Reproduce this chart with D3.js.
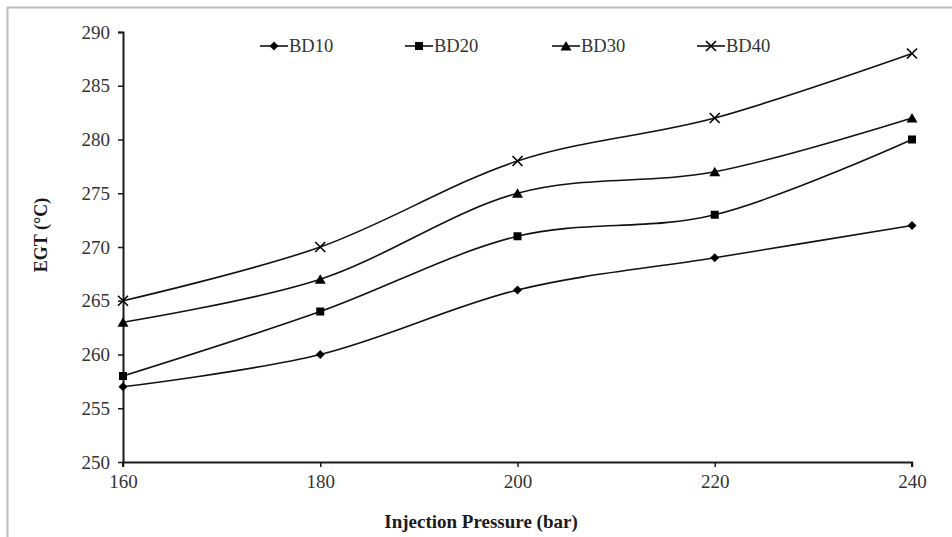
<!DOCTYPE html>
<html>
<head>
<meta charset="utf-8">
<script src="https://cdn.jsdelivr.net/npm/d3@7"></script>
<style>
  body { margin: 0; background: #fff; }
  svg text { font-family: "Liberation Serif", "Times New Roman", Times, "DejaVu Serif", serif !important; }
</style>
</head>
<body>
<div class="chart"></div>
<script>
// Chart data
var pressures = [160, 180, 200, 220, 240];
var seriesNames = ["BD10", "BD20", "BD30", "BD40"];
var bd10 = [257, 260, 266, 269, 272];
var bd20 = [258, 264, 271, 273, 280];
var bd30 = [263, 267, 275, 277, 282];
var bd40 = [265, 270, 278, 282, 288];
var xTicks = [160, 180, 200, 220, 240];
var yTicks = [250, 255, 260, 265, 270, 275, 280, 285, 290];

var svgWidth = 952;
var svgHeight = 537;

var margin = { top: 32, right: 40, bottom: 75, left: 123 };
var width = 912 - margin.left;
var height = 462 - margin.top;

var svg = d3.select(".chart")
  .append("svg")
  .attr("width", svgWidth)
  .attr("height", svgHeight);

// outer frame (only top and left edges show in the crop)
svg.append("path")
  .attr("d", "M7.5,537 L7.5,7.5 L952,7.5")
  .attr("fill", "none")
  .attr("stroke", "#bdbdbd")
  .attr("stroke-width", 2);

var chartGroup = svg.append("g")
  .attr("transform", `translate(${margin.left}, ${margin.top})`);

var xScale = d3.scaleLinear().domain([160, 240]).range([0, width]);
var yScale = d3.scaleLinear().domain([250, 290]).range([height, 0]);

var xAxis = d3.axisBottom(xScale).tickValues(xTicks).tickSize(5).tickPadding(8).tickFormat(d3.format("d"));
var yAxis = d3.axisLeft(yScale).tickValues(yTicks).tickSize(5).tickPadding(8).tickFormat(d3.format("d"));

var gx = chartGroup.append("g").attr("transform", `translate(0, ${height})`).call(xAxis);
var gy = chartGroup.append("g").call(yAxis);

[gx, gy].forEach(g => {
  g.attr("font-family", null).attr("font-size", null);
  g.select(".domain").attr("stroke", "#1a1a1a").attr("stroke-width", 2);
  g.selectAll(".tick line").attr("stroke", "#1a1a1a").attr("stroke-width", 1.5);
  g.selectAll(".tick text")
    .attr("fill", "#333")
    .style("font-size", "19px");
});
gy.select(".domain").attr("d", `M-5,0.5H0.5V${height}`);
gx.select(".domain").attr("d", `M0,5V0.5H${width}V5`);

// Series
var seriesData = [bd10, bd20, bd30, bd40].map((vals, i) => ({
  name: seriesNames[i],
  points: vals.map((v, j) => ({ x: pressures[j], y: v }))
}));

var line = d3.line()
  .x(d => xScale(d.x))
  .y(d => yScale(d.y))
  .curve(d3.curveCardinal.tension(0));

chartGroup.selectAll(".series")
  .data(seriesData)
  .enter()
  .append("path")
  .attr("class", "series")
  .attr("d", d => line(d.points))
  .attr("fill", "none")
  .attr("stroke", "#111")
  .attr("stroke-width", 1.6);

// marker drawing
function drawMarker(g, idx) {
  if (idx === 0) {
    g.append("path").attr("d", "M0,-4.5L4.5,0L0,4.5L-4.5,0Z").attr("fill", "#000");
  } else if (idx === 1) {
    g.append("rect").attr("x", -4).attr("y", -4).attr("width", 8).attr("height", 8).attr("fill", "#000");
  } else if (idx === 2) {
    g.append("path").attr("d", "M0,-5L5.5,4.5L-5.5,4.5Z").attr("fill", "#000");
  } else {
    g.append("path").attr("d", "M-5,-5L5,5M-5,5L5,-5").attr("stroke", "#000").attr("stroke-width", 1.6);
  }
}

seriesData.forEach((s, i) => {
  s.points.forEach(p => {
    var g = chartGroup.append("g")
      .attr("transform", `translate(${xScale(p.x)}, ${yScale(p.y)})`);
    drawMarker(g, i);
  });
});

// Legend
var legendX = [260, 405, 552, 697];
var legend = svg.append("g");
seriesNames.forEach((name, i) => {
  var g = legend.append("g").attr("transform", `translate(${legendX[i]}, 46)`);
  g.append("line").attr("x1", 0).attr("x2", 28).attr("y1", 0).attr("y2", 0)
    .attr("stroke", "#111").attr("stroke-width", 1.6);
  var m = g.append("g").attr("transform", "translate(14,0)");
  drawMarker(m, i);
  g.append("text")
    .attr("x", 29)
    .attr("y", 6)
    .attr("fill", "#333")
    .style("font-size", "18.5px")
    .text(name);
});

// Axes labels
svg.append("text")
  .attr("transform", "translate(47, 235) rotate(-90)")
  .attr("text-anchor", "middle")
  .attr("fill", "#1a1a1a")
  .style("font-size", "18px")
  .style("font-weight", "bold")
  .text("EGT (°C)");

svg.append("text")
  .attr("x", 481)
  .attr("y", 528)
  .attr("text-anchor", "middle")
  .attr("fill", "#1a1a1a")
  .style("font-size", "19px")
  .style("font-weight", "bold")
  .text("Injection Pressure (bar)");
</script>
</body>
</html>
